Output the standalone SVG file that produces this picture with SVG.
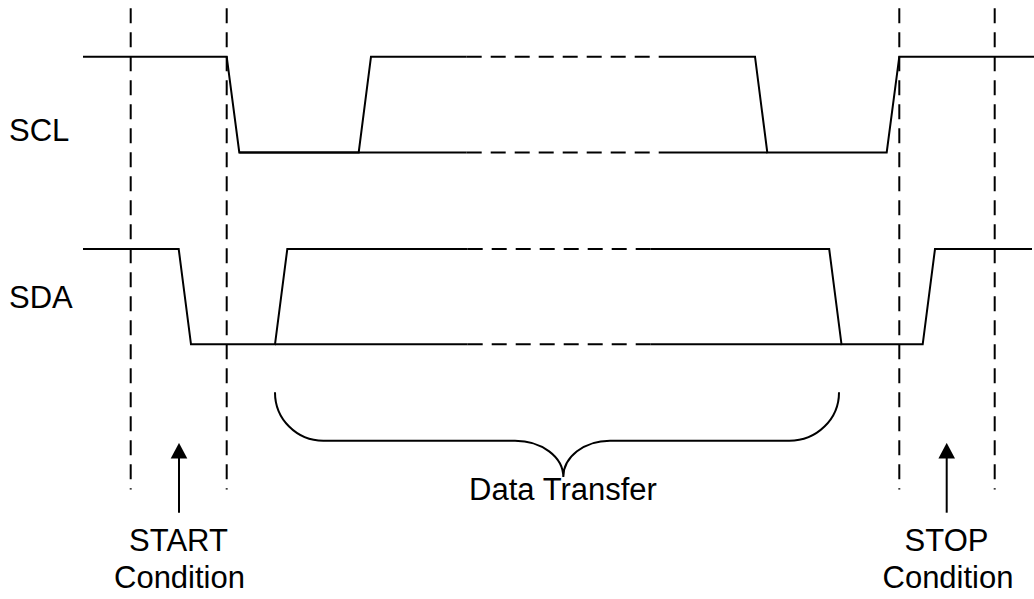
<svg xmlns="http://www.w3.org/2000/svg" width="1034" height="599" viewBox="0 0 1034 599">
  <style>
    .sig { fill: none; stroke: #000; stroke-width: 2; stroke-linejoin: miter; }
    .dash { fill: none; stroke: #000; stroke-width: 2; stroke-dasharray: 15 9; }
    .guide { fill: none; stroke: #000; stroke-width: 2; stroke-dasharray: 15 9; }
    .arrow { fill: none; stroke: #000; stroke-width: 2; marker-end: url(#head); }
    .lbl { font-family: "Liberation Sans", Arial, sans-serif; font-size: 31px; fill: #000; }
  </style>
  <defs>
    <marker id="head" markerUnits="userSpaceOnUse" viewBox="0 -9 16 18" markerWidth="16" markerHeight="18" refX="1" refY="0" orient="auto">
      <path d="M0,-8.3 L15.6,0 L0,8.3 Z" fill="#000"/>
    </marker>
  </defs>
  <rect width="1034" height="599" fill="#fff"/>

  <g id="guides">
    <line class="guide" x1="130.7" y1="8.3" x2="130.7" y2="489.5"/>
    <line class="guide" x1="226.7" y1="8.3" x2="226.7" y2="489.5"/>
    <line class="guide" x1="899.3" y1="8.3" x2="899.3" y2="489.5"/>
    <line class="guide" x1="994.7" y1="8.3" x2="994.7" y2="489.5"/>
  </g>

  <g id="scl">
    <text class="lbl" x="9" y="141">SCL</text>
    <polyline class="sig" points="83,56.7 226.7,56.7 239.3,152.5 358.7,152.5 371,56.7 466.7,56.7"/>
    <polyline class="sig" points="239.3,152.5 466.7,152.5"/>
    <line class="dash" x1="466.7" y1="56.7" x2="649.7" y2="56.7"/>
    <line class="dash" x1="466.7" y1="152.5" x2="649.7" y2="152.5"/>
    <polyline class="sig" points="658.7,56.7 755,56.7 767.3,152.5 886.7,152.5 899.3,56.7 1034,56.7"/>
    <polyline class="sig" points="658.7,152.5 767.3,152.5"/>
  </g>

  <g id="sda">
    <text class="lbl" x="9" y="308">SDA</text>
    <polyline class="sig" points="83,249 178.7,249 191,344.3 275,344.3 287.3,249 467.7,249"/>
    <polyline class="sig" points="275,344.3 467.7,344.3"/>
    <line class="dash" x1="467.7" y1="249" x2="650.7" y2="249"/>
    <line class="dash" x1="467.7" y1="344.3" x2="650.7" y2="344.3"/>
    <polyline class="sig" points="650.7,249 829.2,249 841.5,344.3 922.7,344.3 935,249 1032,249"/>
    <polyline class="sig" points="650.7,344.3 841.5,344.3"/>
  </g>

  <g id="data-transfer">
    <path class="sig" d="M275,392.3 A48.3,48.3 0 0 0 323.3,440.7 L515,440.7 A48.3,36.3 0 0 1 563.3,477 A46.7,36.3 0 0 1 610,440.7 L789.3,440.7 A49.7,48.3 0 0 0 839,392.3"/>
    <text class="lbl" x="563" y="500" text-anchor="middle">Data Transfer</text>
  </g>

  <g id="connectors">
    <line class="arrow" x1="179" y1="512.7" x2="179" y2="457.5"/>
    <line class="arrow" x1="946.7" y1="512.7" x2="946.7" y2="457.5"/>
  </g>

  <g id="start">
    <text class="lbl" x="178.5" y="550.7" text-anchor="middle">START</text>
    <text class="lbl" x="179.5" y="588.3" text-anchor="middle">Condition</text>
  </g>

  <g id="stop">
    <text class="lbl" x="946.5" y="550.7" text-anchor="middle">STOP</text>
    <text class="lbl" x="948" y="588.3" text-anchor="middle">Condition</text>
  </g>
</svg>
